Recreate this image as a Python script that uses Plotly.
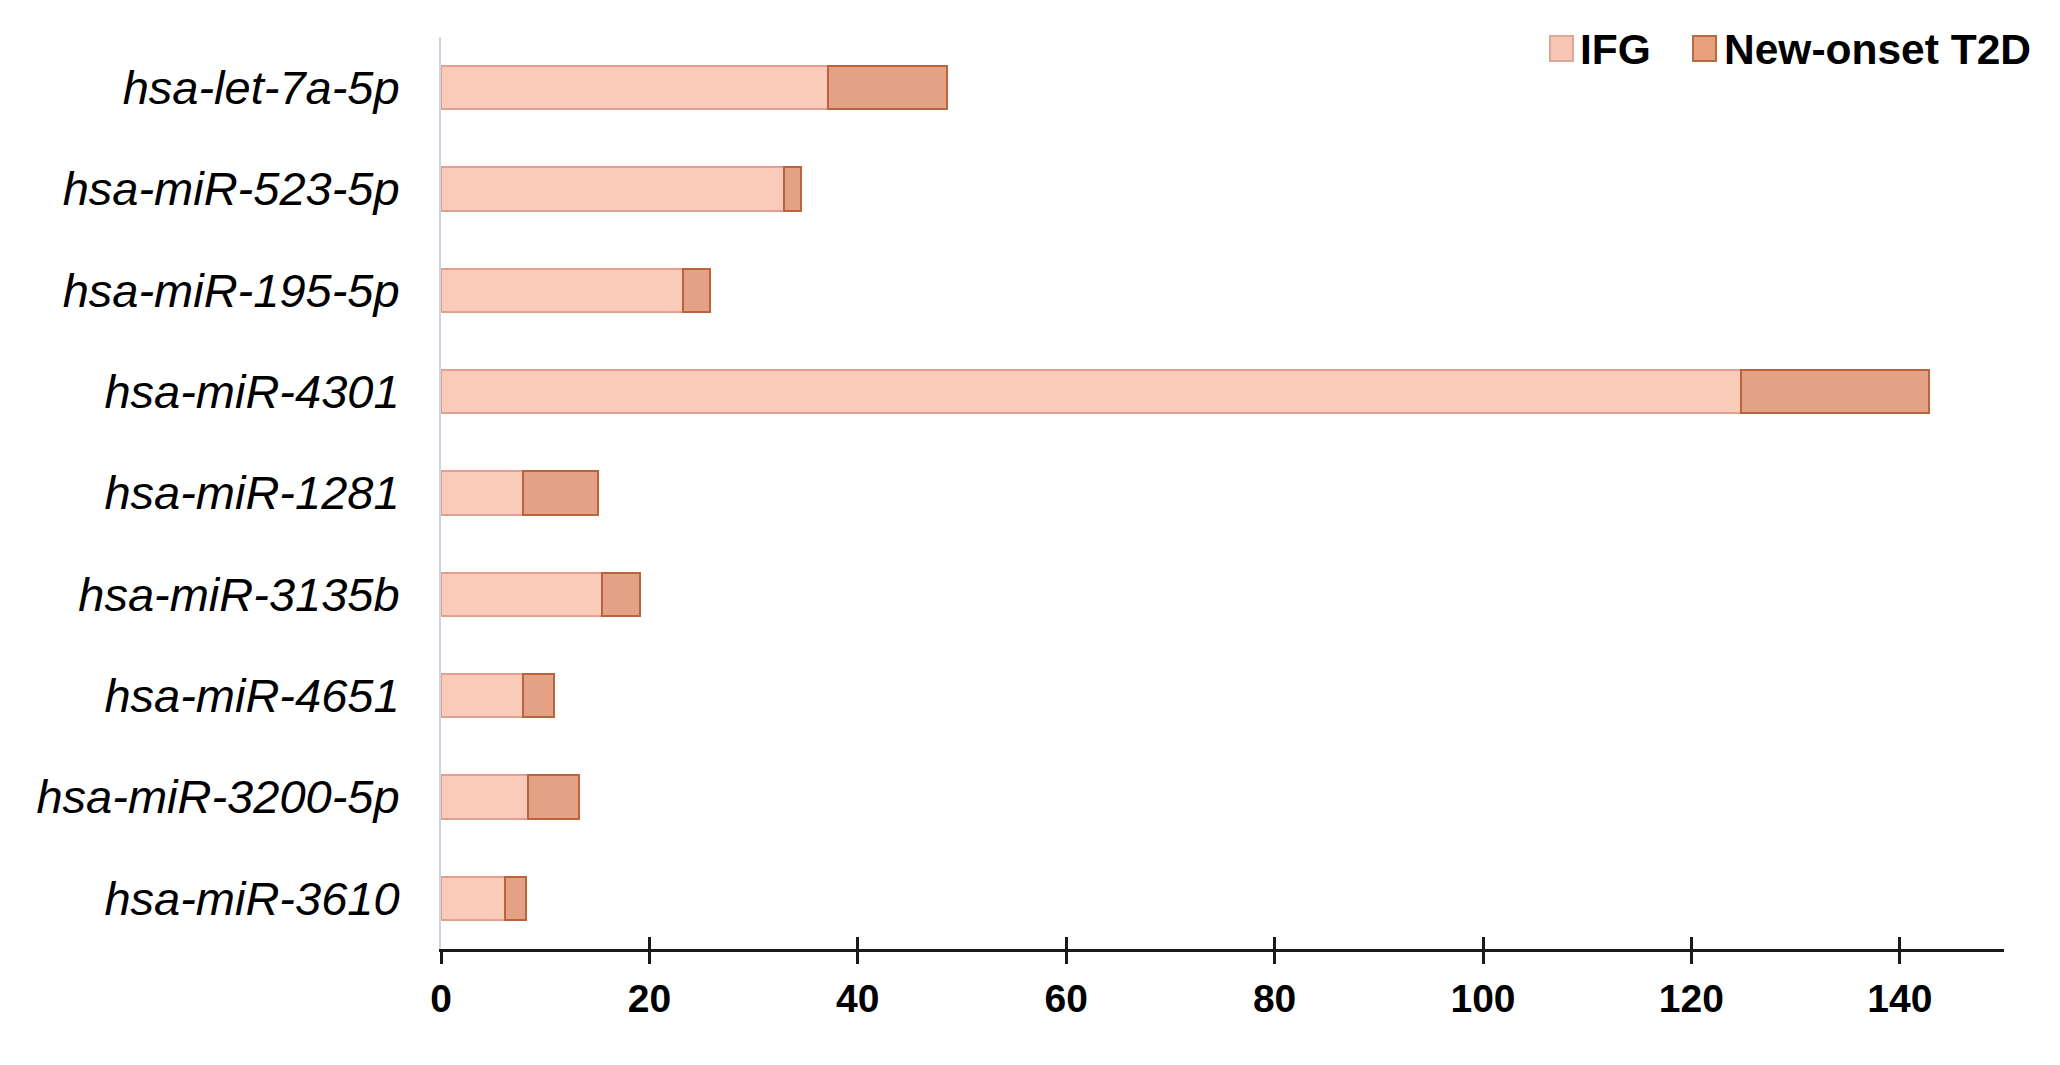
import plotly.graph_objects as go

categories = ["hsa-let-7a-5p", "hsa-miR-523-5p", "hsa-miR-195-5p", "hsa-miR-4301",
              "hsa-miR-1281", "hsa-miR-3135b", "hsa-miR-4651", "hsa-miR-3200-5p",
              "hsa-miR-3610"]
ifg = [37.1, 32.9, 23.2, 124.8, 7.9, 15.45, 7.9, 8.35, 6.15]
t2d = [11.45, 1.65, 2.6, 18.0, 7.15, 3.6, 2.95, 4.85, 2.0]
xticks = [0, 20, 40, 60, 80, 100, 120, 140]
series_names = ["IFG", "New-onset T2D"]

ifg_fill, ifg_line = "#F9CBB8", "#E0A092"
t2d_fill, t2d_line = "#E3A186", "#B9653C"

fig = go.Figure()
fig.add_trace(go.Bar(
    y=categories, x=ifg, orientation="h", name=series_names[0], showlegend=False,
    marker=dict(color=ifg_fill, line=dict(color=ifg_line, width=2)),
))
fig.add_trace(go.Bar(
    y=categories, x=t2d, orientation="h", name=series_names[1], showlegend=False,
    marker=dict(color=t2d_fill, line=dict(color=t2d_line, width=2)),
))
# empty trace so the overlay axis (upper half of crossing ticks) is drawn
fig.add_trace(go.Scatter(x=[], y=[], xaxis="x2", showlegend=False, hoverinfo="skip"))

# legend built from annotations (larger swatches than plotly's capped legend symbols)
legend_y = 0.9875
swatches = [
    (0.7169, 0.7281, "#F8C6B2", "#D9A898", series_names[0]),
    (0.8082, 0.8200, "#E9A07C", "#B56A40", series_names[1]),
]
annotations = []
for sx, tx, fill, line, label in swatches:
    annotations.append(dict(
        xref="paper", yref="paper", x=sx, y=legend_y, xanchor="center", yanchor="middle",
        text=" ", showarrow=False, width=21, height=23, borderpad=0,
        bgcolor=fill, bordercolor=line, borderwidth=2,
    ))
    annotations.append(dict(
        xref="paper", yref="paper", x=tx, y=legend_y - 0.001, xanchor="left", yanchor="middle",
        text="<b>%s</b>" % label, showarrow=False, borderpad=0,
        font=dict(size=42.5, color="black", family="Liberation Sans, Arial, sans-serif"),
    ))

fig.update_layout(
    barmode="stack",
    bargap=0.575,
    width=2060, height=1065,
    margin=dict(l=433, r=64, t=29, b=124, autoexpand=False),
    plot_bgcolor="white", paper_bgcolor="white",
    font=dict(family="Liberation Sans, Arial, sans-serif", color="black"),
    showlegend=False,
    annotations=annotations,
    xaxis=dict(range=[0, 150], tickvals=xticks, ticktext=[str(v) for v in xticks],
               showline=True, linecolor="#1a1a1a", linewidth=3,
               ticks="outside", ticklen=12, tickwidth=2.5, tickcolor="#1a1a1a",
               tickfont=dict(size=39, weight="bold", color="black"),
               ticklabelstandoff=1,
               showgrid=False, zeroline=False, fixedrange=True),
    xaxis2=dict(range=[0, 150], overlaying="x", anchor="free", position=0, side="top",
                tickvals=xticks[1:], showticklabels=False,
                ticks="outside", ticklen=12, tickwidth=2.5, tickcolor="#1a1a1a",
                showline=False, showgrid=False, zeroline=False),
    yaxis=dict(type="category", categoryorder="array", categoryarray=categories,
               range=[8.5, -0.5],
               showline=True, linecolor="#CDD5E0", linewidth=2,
               ticks="", ticklabelstandoff=30,
               tickfont=dict(size=47, style="italic", color="black"),
               showgrid=False, zeroline=False),
)

fig.write_html("out.html")
